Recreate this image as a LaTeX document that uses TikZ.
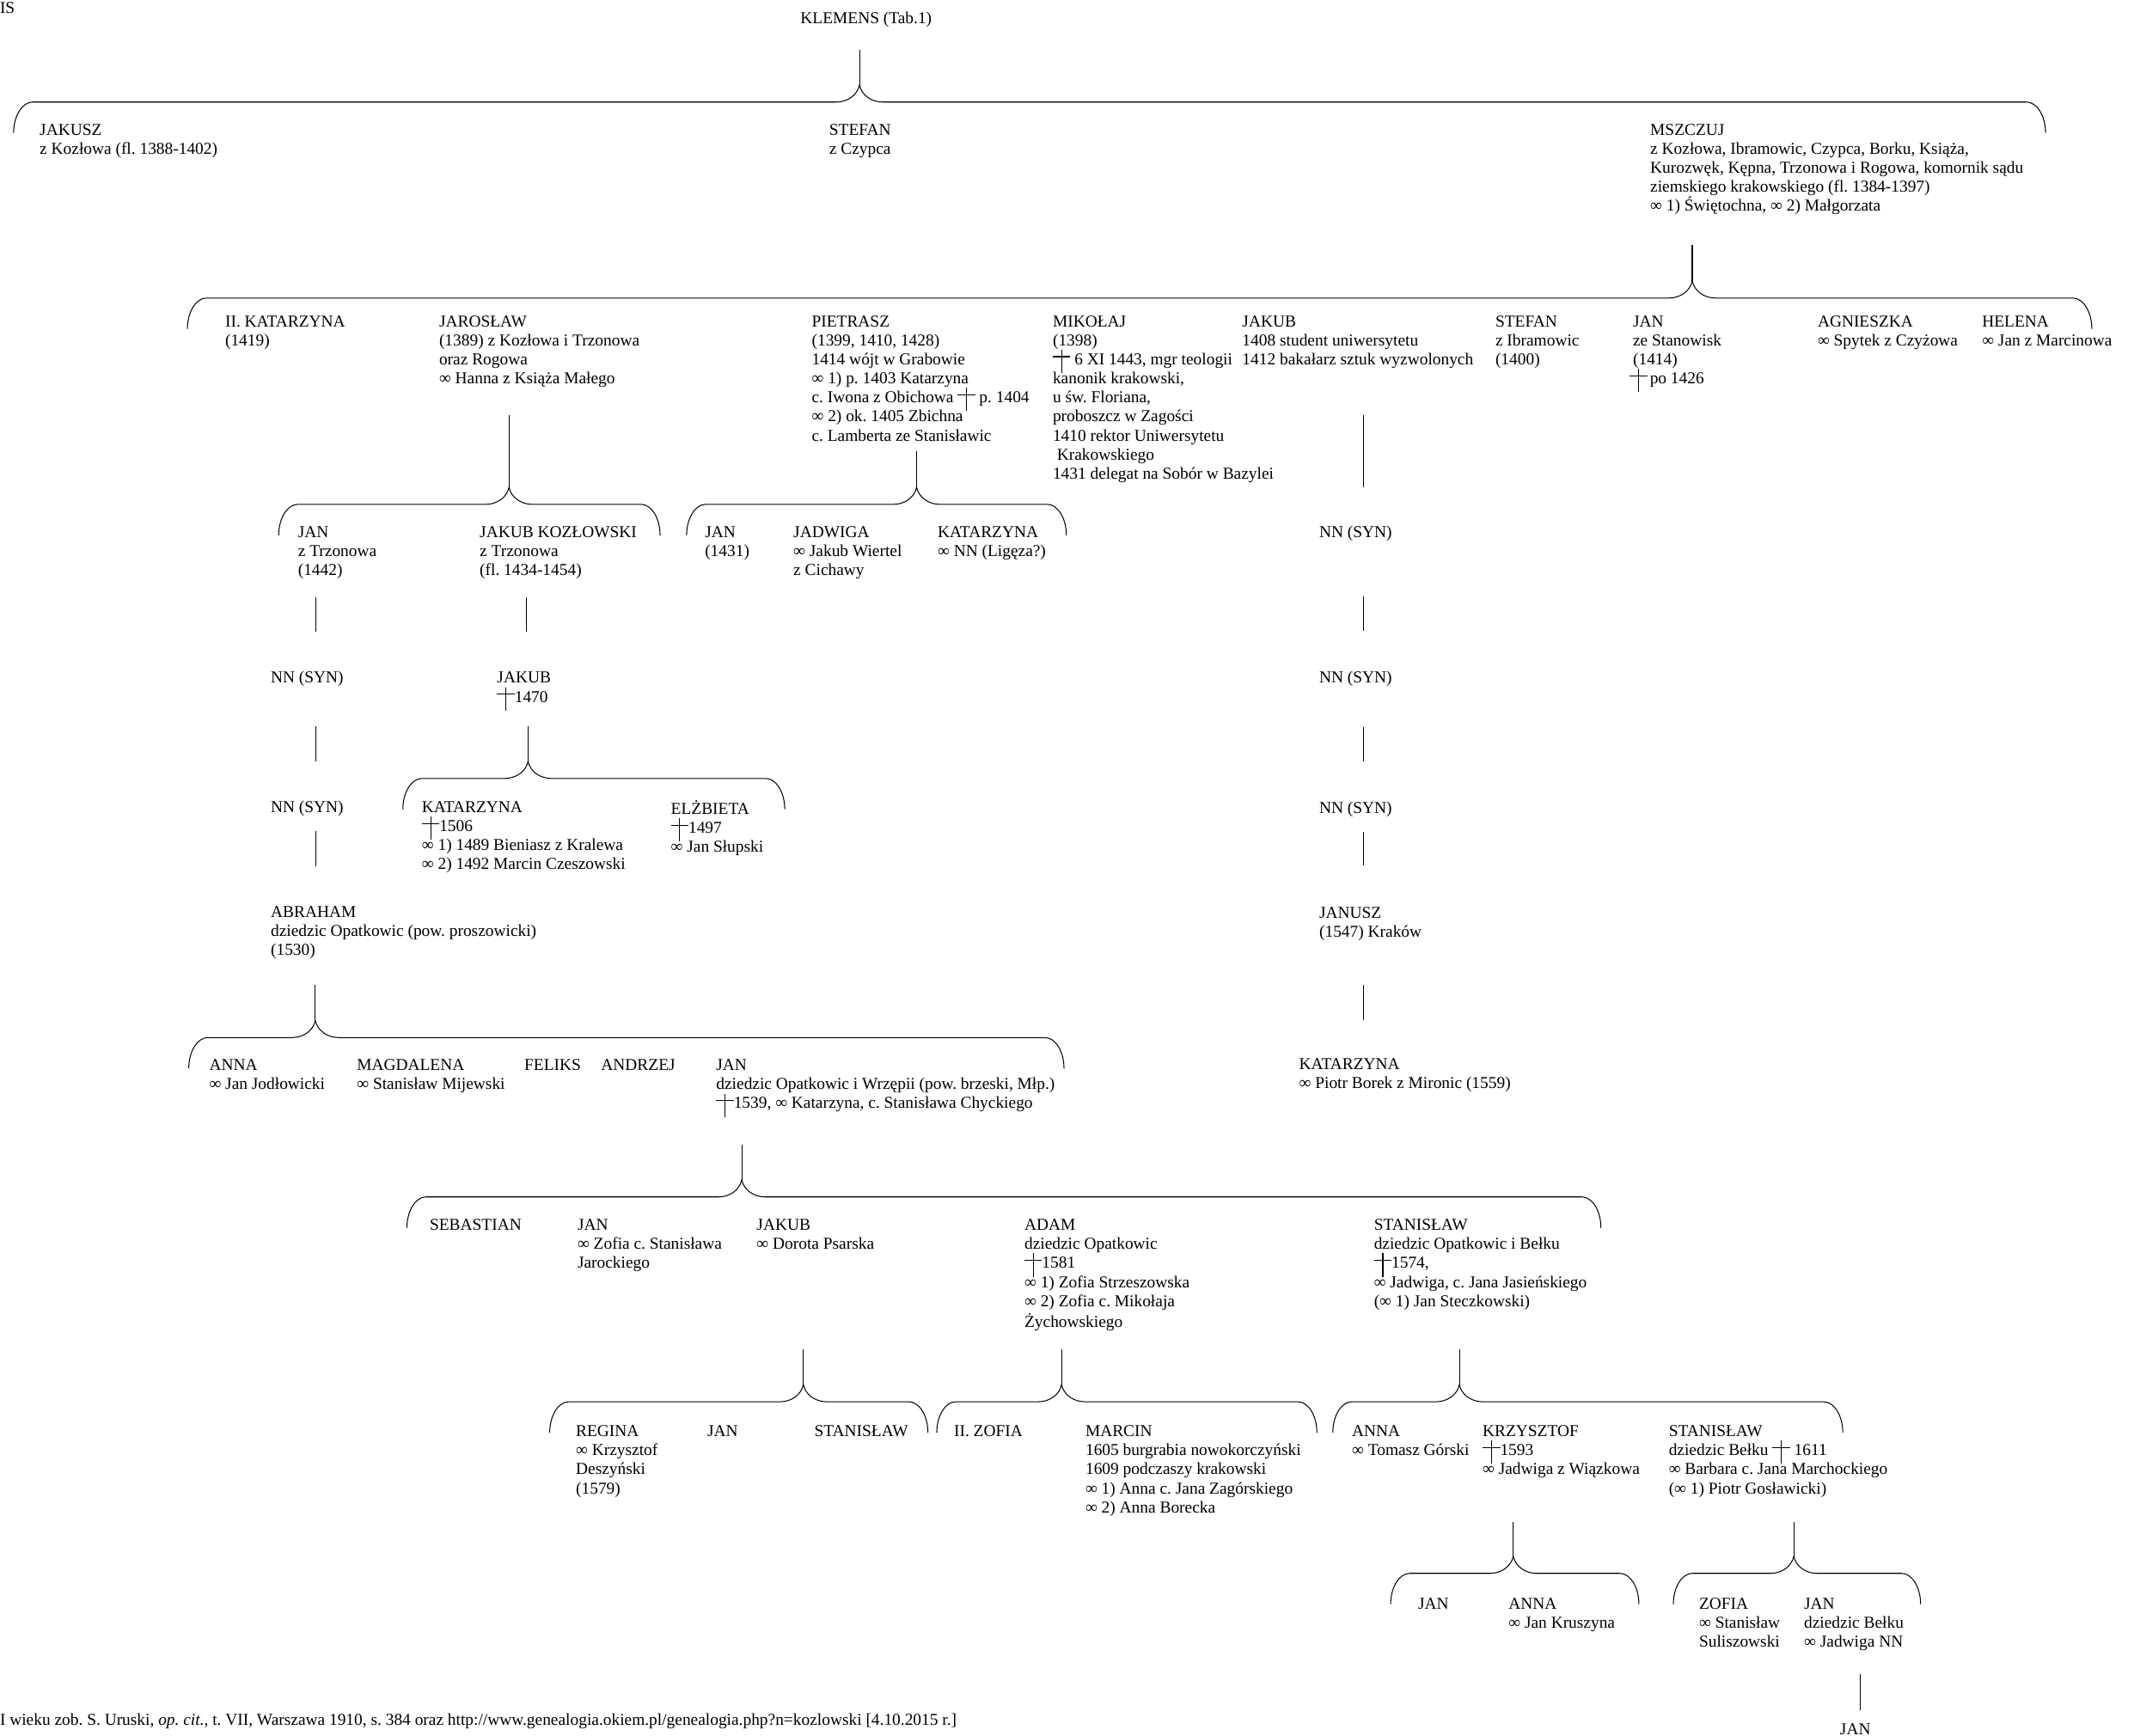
\documentclass[tikz,border=0pt]{standalone}
\usepackage{fontspec}
\setmainfont{Liberation Serif}
\frenchspacing
\newcommand\krz{\makebox[1.05em][l]{\rule[0.45em]{1.05em}{0.06em}\hspace{-0.555em}\smash{\rule[-0.5em]{0.06em}{1.4em}}}}
\newcommand\fs{\rule{0pt}{11pt}}
% name, xL, xR, xc, yh, ytop
\newcommand\famlink[6]{%
 \coordinate (#1-top) at (#4,#6);
 \coordinate (#1-tip) at (#4,#5-12.6);
 \draw[conn] (#1-top) -- (#1-tip);
 \draw[conn] (#2,#5+22.7) .. controls (#2,#5+10.2) and (#2+6.3,#5) .. (#2+14,#5) -- (#4-17,#5) .. controls (#4-9,#5) and (#4-1.5,#5-5) .. (#1-tip) .. controls (#4+1.5,#5-5) and (#4+9,#5) .. (#4+17,#5) -- (#3-14,#5) .. controls (#3-6.3,#5) and (#3,#5+10.2) .. (#3,#5+22.7);
}
% name, x, y1, y2
\newcommand\seg[4]{%
 \coordinate (#1-a) at (#2,#3);
 \coordinate (#1-b) at (#2,#4);
 \draw[conn] (#1-a) -- (#1-b);
}
\tikzset{
 conn/.style={line width=0.65pt, black},
 pers/.style={anchor=north west, inner sep=0pt, outer sep=0pt, align=left, font=\fontsize{12.25}{14}\selectfont\frenchspacing},
 plain/.style={anchor=base west, inner sep=0pt, outer sep=0pt, font=\fontsize{12.25}{14}\selectfont\frenchspacing}
}
\begin{document}
\begin{tikzpicture}[x=1pt,y=-1pt]
\fill[white] (0,0) rectangle (1568,1275.6);
\useasboundingbox (0,0) rectangle (1568,1275.6);

% top
\node[plain] (is) at (0,10.1) {IS};
\node[plain] (klemens) at (588.2,17.2) {KLEMENS (Tab.1)};

% level 1
\node[pers] (jakusz) at (29.2,99.2-11) {\fs JAKUSZ\\z Kozłowa (fl. 1388-1402)};
\node[pers] (stefan1) at (609.3,99.2-11) {\fs STEFAN\\z Czypca};
\node[pers] (mszczuj) at (1212.6,99.2-11) {\fs MSZCZUJ\\z Kozłowa, Ibramowic, Czypca, Borku, Książa,\\Kurozwęk, Kępna, Trzonowa i Rogowa, komornik sądu\\ziemskiego krakowskiego (fl. 1384-1397)\\∞ 1) Świętochna, ∞ 2) Małgorzata};

% level 2
\node[pers] (katarzyna2) at (165.5,240-11) {\fs II. KATARZYNA\\(1419)};
\node[pers] (jaroslaw) at (322.7,240-11) {\fs JAROSŁAW\\(1389) z Kozłowa i Trzonowa\\oraz Rogowa\\∞ Hanna z Książa Małego};
\node[pers] (pietrasz) at (596.5,240-11) {\fs PIETRASZ\\(1399, 1410, 1428)\\1414 wójt w Grabowie\\∞ 1) p. 1403 Katarzyna\\c. Iwona z Obichowa \krz{} p. 1404\\∞ 2) ok. 1405 Zbichna\\c. Lamberta ze Stanisławic};
\node[pers] (mikolaj) at (773.6,240-11) {\fs MIKOŁAJ\\(1398)\\\krz{} 6 XI 1443, mgr teologii\\kanonik krakowski,\\u św. Floriana,\\proboszcz w Zagości\\1410 rektor Uniwersytetu\\\hspace*{0.25em}Krakowskiego\\1431 delegat na Sobór w Bazylei};
\node[pers] (jakub2) at (912.8,240-11) {\fs JAKUB\\1408 student uniwersytetu\\1412 bakałarz sztuk wyzwolonych};
\node[pers] (stefan2) at (1098.8,240-11) {\fs STEFAN\\z Ibramowic\\(1400)};
\node[pers] (jan2) at (1199.9,240-11) {\fs JAN\\ze Stanowisk\\(1414)\\\hspace*{-2.5pt}\krz\,po 1426};
\node[pers] (agnieszka) at (1335.6,240-11) {\fs AGNIESZKA\\∞ Spytek z Czyżowa};
\node[pers] (helena) at (1456.4,240-11) {\fs HELENA\\∞ Jan z Marcinowa};

% level 3
\node[pers] (jan3a) at (219,394.7-11) {\fs JAN\\z Trzonowa\\(1442)};
\node[pers] (jakubkoz) at (352.5,394.7-11) {\fs JAKUB KOZŁOWSKI\\z Trzonowa\\(fl. 1434-1454)};
\node[pers] (jan3b) at (518,394.7-11) {\fs JAN\\(1431)};
\node[pers] (jadwiga) at (583,394.7-11) {\fs JADWIGA\\∞ Jakub Wiertel\\z Cichawy};
\node[pers] (katarzyna3) at (689,394.7-11) {\fs KATARZYNA\\∞ NN (Ligęza?)};
\node[pers] (nn1r) at (969.4,394.7-11) {\fs NN (SYN)};

\node[pers] (nn1l) at (199,502-11) {\fs NN (SYN)};
\node[pers] (jakub1470) at (365.3,502-11) {\fs JAKUB\\\krz{}1470};
\node[pers] (nn2r) at (969.4,502-11) {\fs NN (SYN)};

\node[pers] (nn2l) at (199,597-11) {\fs NN (SYN)};
\node[pers] (katarzyna4) at (310,597-11) {\fs KATARZYNA\\\krz{}1506\\∞ 1) 1489 Bieniasz z Kralewa\\∞ 2) 1492 Marcin Czeszowski};
\node[pers] (elzbieta) at (493,598.3-11) {\fs ELŻBIETA\\\krz{}1497\\∞ Jan Słupski};
\node[pers] (nn3r) at (969.4,597.4-11) {\fs NN (SYN)};

\node[pers] (abraham) at (199,674-11) {\fs ABRAHAM\\dziedzic Opatkowic (pow. proszowicki)\\(1530)};
\node[pers] (janusz) at (969.4,674.5-11) {\fs JANUSZ\\(1547) Kraków};

\node[pers] (anna1) at (153.8,786.6-11) {\fs ANNA\\∞ Jan Jodłowicki};
\node[pers] (magdalena) at (262.3,786.6-11) {\fs MAGDALENA\\∞ Stanisław Mijewski};
\node[pers] (feliks) at (385.3,786.6-11) {\fs FELIKS};
\node[pers] (andrzej) at (441.7,786.6-11) {\fs ANDRZEJ};
\node[pers] (janop) at (526.3,786.6-11) {\fs JAN\\dziedzic Opatkowic i Wrzępii (pow. brzeski, Młp.)\\\krz{}1539, ∞ Katarzyna, c. Stanisława Chyckiego};
\node[pers] (katarzyna5) at (954.6,786-11) {\fs KATARZYNA\\∞ Piotr Borek z Mironic (1559)};

\node[pers] (sebastian) at (315.8,904-11) {\fs SEBASTIAN};
\node[pers] (jan5) at (424.4,904-11) {\fs JAN\\∞ Zofia c. Stanisława\\Jarockiego};
\node[pers] (jakubps) at (556,904-11) {\fs JAKUB\\∞ Dorota Psarska};
\node[pers] (adam) at (752.8,904-11) {\fs ADAM\\dziedzic Opatkowic\\\krz{}1581\\∞ 1) Zofia Strzeszowska\\∞ 2) Zofia c. Mikołaja\\[1.5pt]Żychowskiego};
\node[pers] (stanop) at (1009.6,904-11) {\fs STANISŁAW\\dziedzic Opatkowic i Bełku\\\krz{}1574,\\∞ Jadwiga, c. Jana Jasieńskiego\\(∞ 1) Jan Steczkowski)};

\node[pers] (regina) at (423.2,1055.6-11) {\fs REGINA\\∞ Krzysztof\\Deszyński\\(1579)};
\node[pers] (jan6) at (519.8,1055.6-11) {\fs JAN};
\node[pers] (stanislaw6) at (598.4,1055.6-11) {\fs STANISŁAW};
\node[pers] (zofia6) at (701,1055.6-11) {\fs II. ZOFIA};
\node[pers] (marcin) at (797.6,1055.6-11) {\fs MARCIN\\1605 burgrabia nowokorczyński\\1609 podczaszy krakowski\\∞ 1) Anna c. Jana Zagórskiego\\∞ 2) Anna Borecka};
\node[pers] (anna6) at (993.4,1055.6-11) {\fs ANNA\\∞ Tomasz Górski};
\node[pers] (krzysztof) at (1089.4,1055.6-11) {\fs KRZYSZTOF\\\krz{}1593\\∞ Jadwiga z Wiązkowa};
\node[pers] (stanbelk) at (1226.2,1055.6-11) {\fs STANISŁAW\\dziedzic Bełku \krz{} 1611\\∞ Barbara c. Jana Marchockiego\\(∞ 1) Piotr Gosławicki)};

\node[pers] (jan7) at (1042,1182.4-11) {\fs JAN};
\node[pers] (anna7) at (1108.5,1182.4-11) {\fs ANNA\\∞ Jan Kruszyna};
\node[pers] (zofia7) at (1248.5,1182.4-11) {\fs ZOFIA\\∞ Stanisław\\Suliszowski};
\node[pers] (jan7b) at (1325.6,1182.4-11) {\fs JAN\\dziedzic Bełku\\∞ Jadwiga NN};

\node[plain] (jan8) at (1352,1274.5) {JAN};

\node[plain] (footer) at (0,1267.9) {I wieku zob. S. Uruski, \textit{op. cit.}, t. VII, Warszawa 1910, s. 384 oraz http://www.genealogia.okiem.pl/genealogia.php?n=kozlowski [4.10.2015 r.]};

% braces
\famlink{klemensB}{10}{1503}{631.5}{75}{36.8}
\famlink{mszczujB}{137.7}{1537}{1243.4}{219}{180}
\famlink{jaroslawB}{204.8}{485}{374}{370.6}{305}
\famlink{pietraszB}{504.5}{783.5}{673.5}{370.6}{331.5}
\famlink{jakubB}{296}{576.6}{388}{572}{533.6}
\famlink{abrahamB}{138.7}{781.8}{231.7}{762.4}{723.7}
\famlink{janopB}{299}{1176.3}{545}{879.5}{841}
\famlink{jakubpsB}{403.9}{681.8}{590.3}{1030}{991.5}
\famlink{adamB}{688.3}{967.6}{780}{1030}{991.5}
\famlink{stanopB}{979.3}{1354}{1072.3}{1030}{991.5}
\famlink{krzysztofB}{1021.8}{1204.2}{1111.9}{1156.1}{1118.2}
\famlink{stanbelkB}{1229.5}{1411.2}{1318}{1156.1}{1118.2}

% plain descent lines
\seg{sa}{232}{439}{464}
\seg{sb}{232}{533.6}{559.4}
\seg{sc}{232}{610.5}{636.6}
\seg{sd}{386.5}{439}{464}
\seg{se}{1002}{305}{358}
\seg{sf}{1002}{438}{463.8}
\seg{sg}{1002}{534}{559.7}
\seg{sh}{1002}{611}{636}
\seg{si}{1002}{724}{749.6}
\seg{sj}{1366.7}{1230}{1256.7}
\end{tikzpicture}
\end{document}
